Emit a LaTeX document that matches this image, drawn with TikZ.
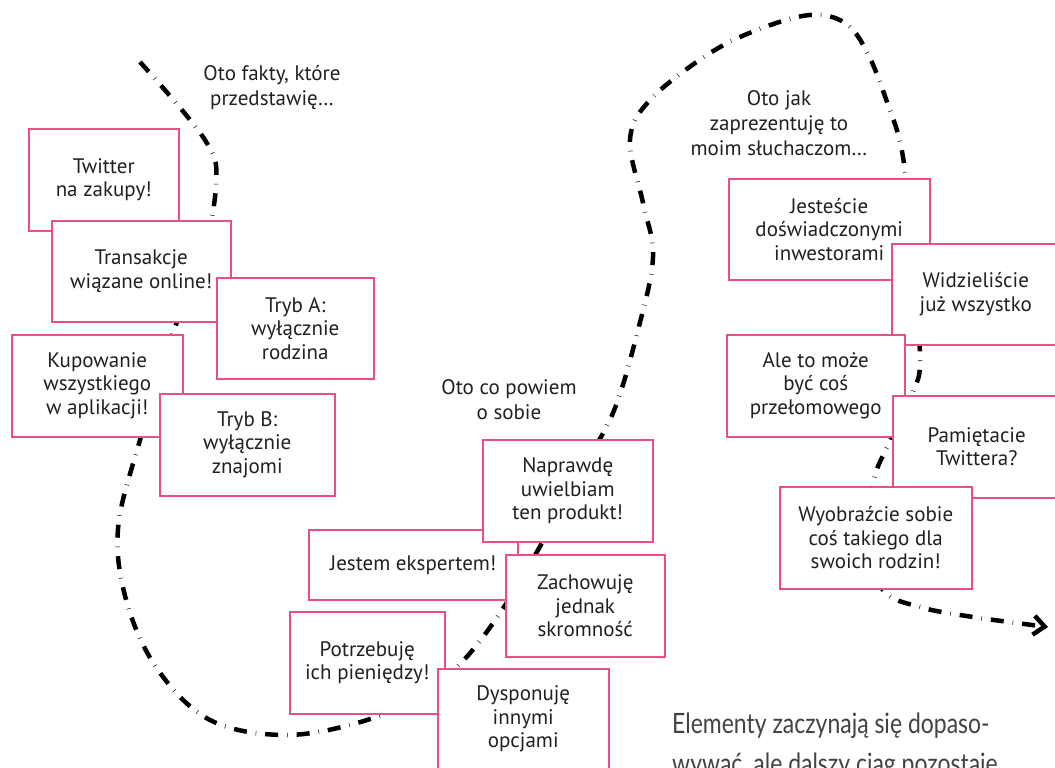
\documentclass[tikz,border=0pt]{standalone}
\usepackage{fontspec}
\setmainfont{PT Sans}
\newfontfamily\captionfont{Lato}[FakeStretch=0.82]
\usetikzlibrary{arrows.meta}
\definecolor{boxpink}{RGB}{236,77,130}
\definecolor{ink}{RGB}{35,31,32}

\begin{document}
\begin{tikzpicture}[x=1pt,y=-1pt,
        card/.style={draw=boxpink,line width=1.5pt,fill=white,anchor=north west,align=center,inner sep=0pt,text=ink,font=\fontsize{21}{23.5}\selectfont},
        note/.style={align=center,text=ink,font=\fontsize{21}{25}\selectfont},
        trail/.style={line width=4.5pt,dash pattern=on 13pt off 9pt on 0.5pt off 9pt,-{Straight Barb[length=11pt,width=19pt]}}]
                \useasboundingbox (0,0) rectangle (1055,768);
                \clip (0,0) rectangle (1055,768);
                \coordinate (start) at (140,62);
                \coordinate (finish) at (1048,627);
                \draw [trail] plot [smooth,tension=0.6] coordinates {(start) (205,140) (216,185) (200,270) (174,330) (140,440) (118,529) (127,603) (158,670) (210,720) (283,735) (357,723) (420,697) (462,662) (500,613) (538,550) (578,475) (613,413) (638,330) (653,257) (643,203) (630,140) (650,100) (707,55) (757,30) (810,15) (845,23) (867,52) (887,102) (903,157) (912,260) (920,357) (913,392) (888,445) (874,480) (868,540) (883,590) (920,607) (973,617) (finish)};
                \node [note] (fakty) at (272,88) {Oto fakty, które\\przedstawię…};
                \node [note] (osobie) at (509,400) {Oto co powiem\\o sobie};
                \node [note] (sluchacze) at (779,123) {Oto jak\\zaprezentuję to\\moim słuchaczom…};
                \node [card,minimum width=150pt,minimum height=102pt] (twitter) at (28,128) {Twitter\\na zakupy!};
                \node [card,minimum width=179pt,minimum height=101pt] (transakcje) at (51,220) {Transakcje\\wiązane online!};
                \node [card,minimum width=157pt,minimum height=101pt] (trybA) at (216,277) {Tryb A:\\wyłącznie\\rodzina};
                \node [card,minimum width=171pt,minimum height=102pt] (kupowanie) at (11,334) {Kupowanie\\wszystkiego\\w aplikacji!};
                \node [card,minimum width=175pt,minimum height=102pt] (trybB) at (159,393) {Tryb B:\\wyłącznie\\znajomi};
                \node [card,minimum width=209pt,minimum height=70pt] (jestem) at (308,529) {Jestem ekspertem!};
                \node [card,minimum width=170pt,minimum height=102pt] (naprawde) at (482,439) {Naprawdę\\uwielbiam\\ten produkt!};
                \node [card,minimum width=159pt,minimum height=102pt] (zachowuje) at (505,554) {Zachowuję\\jednak\\skromność};
                \node [card,minimum width=155pt,minimum height=102pt] (potrzebuje) at (289,611) {Potrzebuję\\ich pieniędzy!};
                \node [card,minimum width=171pt,minimum height=101pt] (dysponuje) at (437,668) {Dysponuję\\innymi\\opcjami};
                \node [card,minimum width=201pt,minimum height=101pt] (jestescie) at (728,178) {Jesteście\\doświadczonymi\\inwestorami};
                \node [card,minimum width=168pt,minimum height=101pt] (widzieliscie) at (891,243) {Widzieliście\\już wszystko};
                \node [card,minimum width=178pt,minimum height=102pt] (ale) at (726,334) {Ale to może\\być coś\\przełomowego};
                \node [card,minimum width=168pt,minimum height=102pt] (pamietacie) at (892,395) {Pamiętacie\\Twittera?};
                \node [card,minimum width=192pt,minimum height=102pt] (wyobrazcie) at (779,486) {Wyobraźcie sobie\\coś takiego dla\\swoich rodzin!};
                \node [anchor=base west,align=left,inner sep=0pt,text=ink!85,font=\captionfont\fontsize{28}{40}\selectfont] (podpis) at (672,773) {Elementy zaczynają się dopaso-\\wywać, ale dalszy ciąg pozostaje};
            \end{tikzpicture}
\end{document}
